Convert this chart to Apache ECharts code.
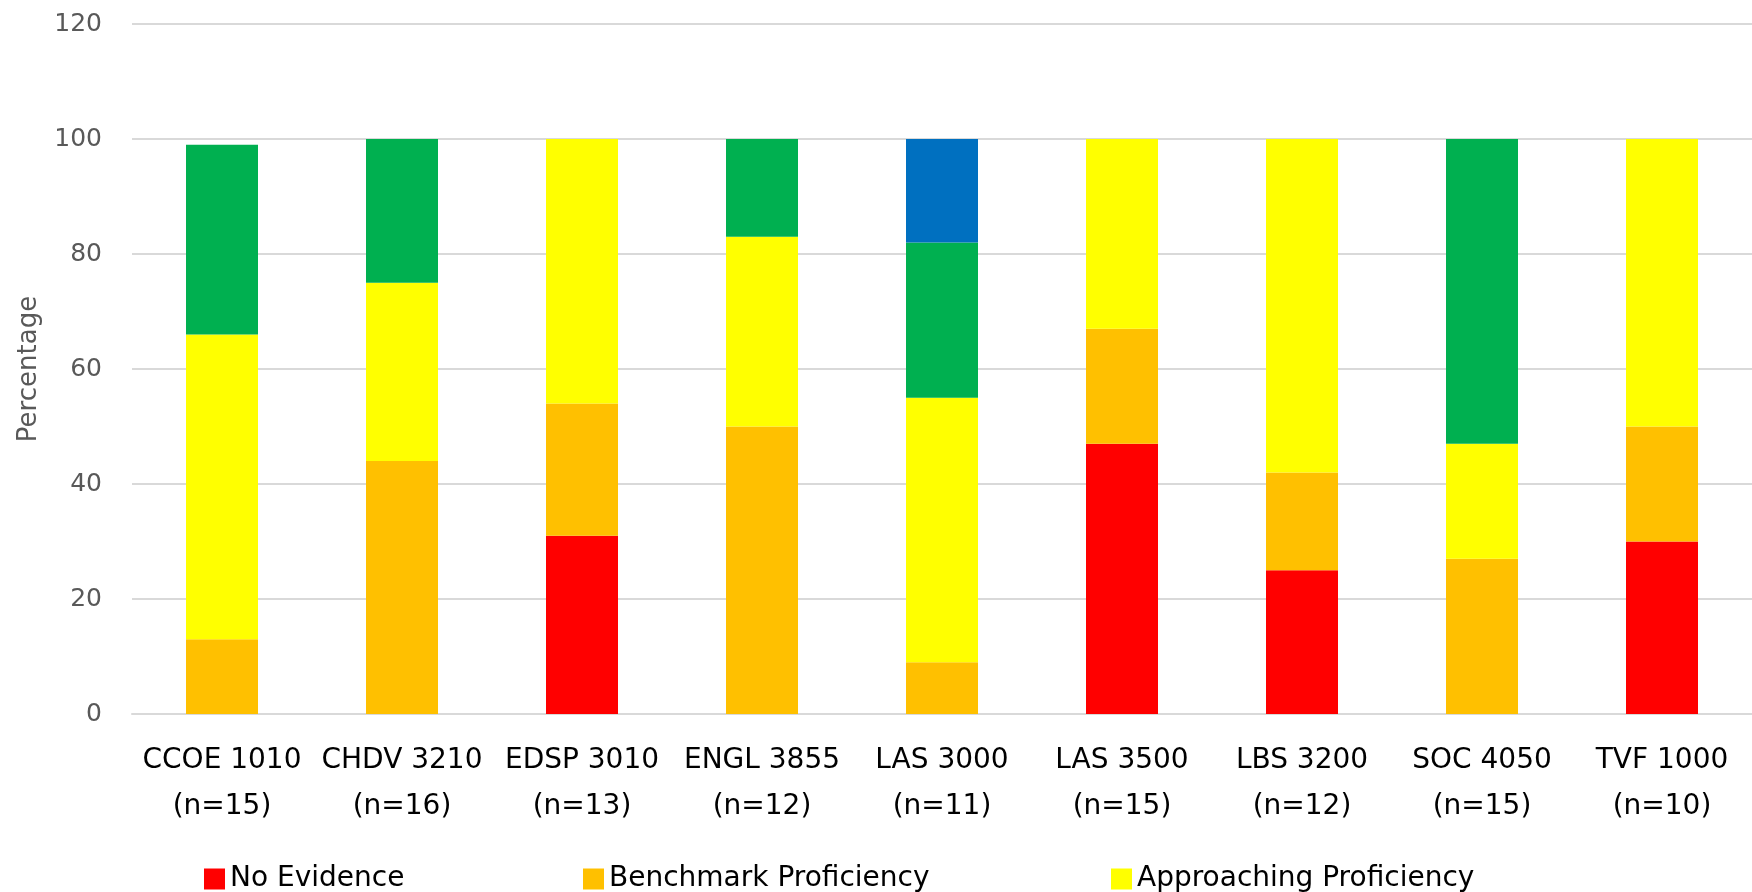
<!DOCTYPE html>
<html>
<head>
<meta charset="utf-8">
<script src="https://cdn.jsdelivr.net/npm/echarts@6/dist/echarts.min.js"></script>
<style>
html,body{margin:0;padding:0;background:#fff;}
#chart{width:1752px;height:892px;}
</style>
</head>
<body>
<div id="chart"></div>
<script>
const categories = ["CCOE 1010\n(n=15)","CHDV 3210\n(n=16)","EDSP 3010\n(n=13)","ENGL 3855\n(n=12)","LAS 3000\n(n=11)","LAS 3500\n(n=15)","LBS 3200\n(n=12)","SOC 4050\n(n=15)","TVF 1000\n(n=10)"];
const noEvidence   = [0, 0, 31, 0, 0, 47, 25, 0, 30];
const benchmark    = [13, 44, 23, 50, 9, 20, 17, 27, 20];
const approaching  = [53, 31, 46, 33, 46, 33, 58, 20, 50];
const proficient   = [33, 25, 0, 17, 27, 0, 0, 53, 0];
const exemplary    = [0, 0, 0, 0, 18, 0, 0, 0, 0];
const yTicks = {min: 0, max: 120, interval: 20};

const FONT = "DejaVu Sans";
const chart = echarts.init(document.getElementById('chart'), null, {renderer: 'canvas'});
function ser(name, data, color) {
  return {name: name, type: 'bar', stack: 'total', data: data, barWidth: '40%',
          itemStyle: {color: color}, emphasis: {disabled: true}};
}
function leg(name, left) {
  return {data: [name], left: left, top: 860, itemWidth: 21, itemHeight: 21, itemGap: 10,
          icon: 'rect', textStyle: {fontFamily: FONT, fontSize: 28, color: '#000'}};
}
chart.setOption({
  animation: false,
  backgroundColor: '#fff',
  grid: {left: 132, right: 0, top: 24, bottom: 178, containLabel: false},
  legend: [leg('No Evidence', 199), leg('Benchmark Proficiency', 578), leg('Approaching Proficiency', 1106)],
  xAxis: {
    type: 'category', data: categories,
    axisLine: {show: true, lineStyle: {color: '#d9d9d9', width: 2}},
    axisTick: {show: false},
    axisLabel: {fontFamily: FONT, fontSize: 28, color: '#000', lineHeight: 46, margin: 24, interval: 0}
  },
  yAxis: {
    type: 'value', min: yTicks.min, max: yTicks.max, interval: yTicks.interval,
    name: 'Percentage', nameLocation: 'middle', nameGap: 90, nameRotate: 90,
    nameTextStyle: {fontFamily: FONT, fontSize: 26, color: '#595959'},
    axisLine: {show: false}, axisTick: {show: false},
    splitLine: {lineStyle: {color: '#d9d9d9', width: 2}},
    axisLabel: {fontFamily: FONT, fontSize: 25, color: '#595959', margin: 30}
  },
  series: [
    ser('No Evidence', noEvidence, '#FF0000'),
    ser('Benchmark Proficiency', benchmark, '#FFC000'),
    ser('Approaching Proficiency', approaching, '#FFFF00'),
    ser('Proficient', proficient, '#00B050'),
    ser('Exemplary', exemplary, '#0070C0')
  ]
});
</script>
</body>
</html>
